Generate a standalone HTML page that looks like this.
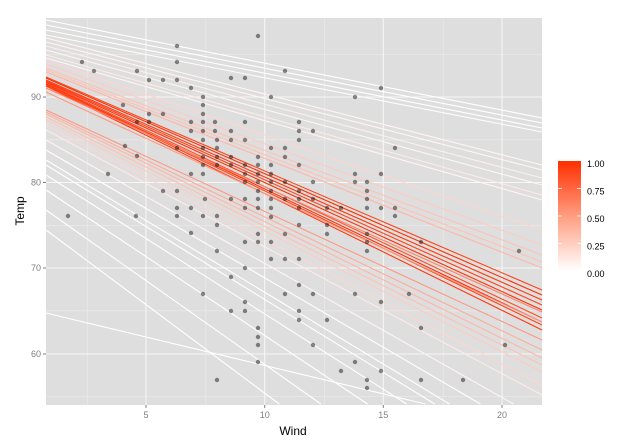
<!DOCTYPE html><html><head><style>html,body{margin:0;padding:0;background:#fff;width:642px;height:448px;overflow:hidden}svg{display:block}text{font-family:"Liberation Sans",sans-serif}</style></head><body>
<svg width="642" height="448" xmlns="http://www.w3.org/2000/svg">
<rect x="46" y="18" width="496" height="387" fill="#dedede"/>
<defs><linearGradient id="g" x1="0" y1="1" x2="0" y2="0"><stop offset="0" stop-color="#ffffff"/><stop offset="0.5" stop-color="#ff9d80"/><stop offset="1" stop-color="#ff2f00"/></linearGradient></defs>
<g stroke="#ececec" stroke-width="0.6">
<line x1="87.3" x2="87.3" y1="18" y2="405"/><line x1="205.9" x2="205.9" y1="18" y2="405"/><line x1="324.6" x2="324.6" y1="18" y2="405"/><line x1="443.2" x2="443.2" y1="18" y2="405"/>
<line y1="54.3" y2="54.3" x1="46" x2="542"/><line y1="139.8" y2="139.8" x1="46" x2="542"/><line y1="225.3" y2="225.3" x1="46" x2="542"/><line y1="310.8" y2="310.8" x1="46" x2="542"/><line y1="396.3" y2="396.3" x1="46" x2="542"/></g>
<g stroke="#f6f6f6" stroke-width="1.1">
<line x1="146" x2="146" y1="18" y2="405"/><line x1="264.7" x2="264.7" y1="18" y2="405"/><line x1="383.3" x2="383.3" y1="18" y2="405"/><line x1="502" x2="502" y1="18" y2="405"/>
<line y1="97" y2="97" x1="46" x2="542"/><line y1="182.5" y2="182.5" x1="46" x2="542"/><line y1="268" y2="268" x1="46" x2="542"/><line y1="354" y2="354" x1="46" x2="542"/></g>
<g id="L" stroke-width="1.1"></g>
<g id="P" fill="#000" fill-opacity="0.45"></g>
<g font-size="9" fill="#7f7f7f" text-anchor="end">
<text x="41" y="100">90</text><text x="41" y="185.5">80</text><text x="41" y="271">70</text><text x="41" y="357">60</text></g>
<g stroke="#7f7f7f"><line x1="43" x2="46" y1="97" y2="97"/><line x1="43" x2="46" y1="182.5" y2="182.5"/><line x1="43" x2="46" y1="268" y2="268"/><line x1="43" x2="46" y1="354" y2="354"/>
<line x1="146" x2="146" y1="405" y2="408"/><line x1="264.7" x2="264.7" y1="405" y2="408"/><line x1="383.3" x2="383.3" y1="405" y2="408"/><line x1="502" x2="502" y1="405" y2="408"/></g>
<g font-size="9" fill="#7f7f7f" text-anchor="middle"><text x="146" y="418">5</text><text x="264.7" y="418">10</text><text x="383.3" y="418">15</text><text x="502" y="418">20</text></g>
<text x="293" y="435" font-size="12" text-anchor="middle">Wind</text>
<text transform="translate(24,211) rotate(-90)" font-size="12" text-anchor="middle">Temp</text>
<rect x="558" y="161" width="23" height="110" fill="url(#g)"/>
<g stroke="#fff" stroke-width="0.8"><line x1="558" x2="562" y1="188.5" y2="188.5"/><line x1="577" x2="581" y1="188.5" y2="188.5"/><line x1="558" x2="562" y1="216" y2="216"/><line x1="577" x2="581" y1="216" y2="216"/><line x1="558" x2="562" y1="243.5" y2="243.5"/><line x1="577" x2="581" y1="243.5" y2="243.5"/></g>
<g font-size="9" fill="#000"><text x="587" y="167">1.00</text><text x="587" y="194.5">0.75</text><text x="587" y="222">0.50</text><text x="587" y="249.5">0.25</text><text x="587" y="277">0.00</text></g>
</svg>
<script>
var L=[[20,118,0],[25,123,0],[30,128,0],[35,132,0.02],[38,165,0.05],[42,170,0.05],[46,178,0.08],[50,185,0.05],[55,195,0.1],[58,200,0.05],[60,230,0.2],[64,245,0.25],[68,255,0.3],[70,262,0.3],[72,268,0.35],[77,290,0.9],[78,295,1],[80,300,0.95],[81,305,0.9],[82,310,1],[83,318,0.85],[84,322,1],[85,325,0.9],[86,330,0.95],[88,312,0.6],[92,322,0.5],[110,340,0.5],[112,350,0.4],[114,358,0.35],[117,365,0.3],[120,372,0.25],[125,385,0.2],[130,395,0.1],[140,420,0.05],[150,440,0],[160,460,0],[165,470,0],[175,490,0],[190,520,0],[210,560,0],[230,600,0],[313,432,0]];
function col(a){var g=Math.round(255-a*(255-47)),b=Math.round(255-a*255);return'rgb(255,'+g+','+b+')';}
var s='';L.forEach(function(l){var x2=542,y2=l[1];if(y2>404){x2=46+496*(404-l[0])/(l[1]-l[0]);y2=404;}s+='<line x1="46" x2="'+x2.toFixed(1)+'" y1="'+l[0]+'" y2="'+y2+'" stroke="'+col(l[2])+'"/>';});
document.getElementById('L').innerHTML=s;
var P=[[68,216],[82,62],[94,71],[108,174],[123,105],[125,146],[137,71],[137,122],[137,156],[136,216],[149,80],[149,114],[149,122],[163,80],[163,114],[163,191],[177,46],[177,62],[177,80],[177,148],[177,191],[177,208],[177,216],[191,88],[191,122],[191,131],[191,174],[191,233],[191,208],[203,97],[203,105],[203,114],[203,122],[203,131],[203,140],[203,148],[203,157],[203,165],[203,174],[203,216],[203,294],[205,199],[215,122],[215,131],[217,140],[217,148],[217,157],[217,165],[217,216],[217,225],[217,251],[217,380],[231,78],[231,131],[231,140],[231,157],[231,165],[231,199],[231,277],[231,311],[245,78],[245,122],[245,140],[245,165],[245,174],[245,182],[245,199],[245,208],[245,242],[245,268],[245,302],[245,311],[258,36],[258,157],[258,165],[258,174],[258,182],[258,191],[258,199],[258,208],[258,234],[258,242],[258,328],[258,337],[258,345],[258,362],[271,97],[271,148],[271,165],[271,174],[271,182],[271,191],[271,199],[271,208],[271,217],[271,242],[271,259],[285,71],[285,148],[285,157],[285,182],[285,199],[285,234],[285,259],[285,294],[299,122],[299,131],[299,140],[299,165],[299,191],[299,199],[299,208],[299,225],[299,259],[299,285],[299,311],[299,320],[313,131],[313,182],[313,199],[313,294],[313,345],[327,208],[327,225],[327,234],[327,320],[341,208],[341,371],[355,97],[355,174],[355,182],[355,294],[355,362],[367,182],[367,191],[367,199],[367,208],[367,234],[367,242],[367,251],[367,380],[367,388],[381,88],[381,174],[381,208],[381,302],[381,371],[395,148],[395,208],[395,216],[409,294],[421,242],[421,328],[421,380],[463,380],[505,345],[519,251]];
var t='';P.forEach(function(p){t+='<circle cx="'+p[0]+'" cy="'+p[1]+'" r="2.2"/>';});
document.getElementById('P').innerHTML=t;
</script>
</body></html>
